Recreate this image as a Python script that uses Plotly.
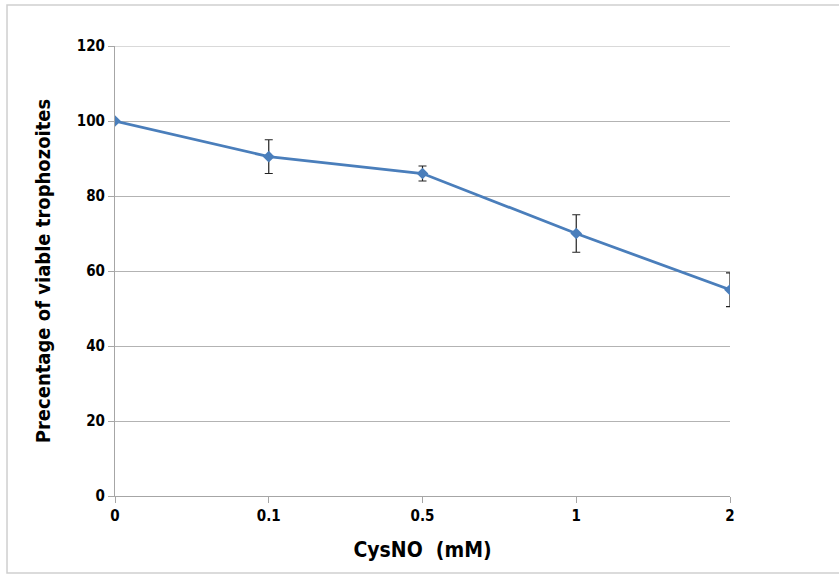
import plotly.graph_objects as go

categories = ["0", "0.1", "0.5", "1", "2"]
viable_pct = [100, 90.5, 86, 70, 55]
err_pct = [0, 4.5, 2, 5, 4.5]
y_ticks = [0, 20, 40, 60, 80, 100, 120]

FONT = "DejaVu Sans Condensed, Liberation Sans, sans-serif"

fig = go.Figure()
fig.add_trace(go.Scatter(
    x=categories, y=viable_pct,
    mode="lines+markers",
    line=dict(color="#4a7ebb", width=2.8),
    marker=dict(symbol="diamond", size=9, color="#4a7ebb"),
    error_y=dict(type="data", array=err_pct, visible=True, color="#222222", thickness=1.2, width=4),
    showlegend=False,
))

fig.update_layout(
    width=839, height=575,
    margin=dict(l=115, r=109, t=46, b=79),
    paper_bgcolor="white", plot_bgcolor="white",
    font=dict(family=FONT, color="black"),
    xaxis=dict(
        type="category", range=[0, 4],
        showgrid=False, showline=True, linecolor="#a6a6a6", linewidth=1,
        ticks="outside", ticklen=6, tickcolor="#a6a6a6",
        tickfont=dict(size=15, family=FONT, weight="bold"),
        title=dict(text="CysNO  (mM)", font=dict(size=21, family=FONT, weight="bold"), standoff=18),
        zeroline=False,
    ),
    yaxis=dict(
        range=[0, 120], tickvals=y_ticks,
        showgrid=True, gridcolor="#b3b3b3", gridwidth=1,
        showline=True, linecolor="#a6a6a6", linewidth=1,
        ticks="outside", ticklen=6, tickcolor="#a6a6a6",
        tickfont=dict(size=15, family=FONT, weight="bold"),
        title=dict(text="Precentage of viable trophozoites", font=dict(size=20, family=FONT, weight="bold"), standoff=20),
        zeroline=False,
    ),
    shapes=[
        dict(type="rect", xref="paper", yref="paper",
             x0=-0.1756, x1=1.6, y0=-0.171, y1=1.091,
             line=dict(color="#cfcfcf", width=1.5), layer="below"),
        dict(type="line", xref="paper", yref="y",
             x0=0, x1=1, y0=y_ticks[-1], y1=y_ticks[-1],
             line=dict(color="#b3b3b3", width=1), layer="below"),
    ],
)

fig.write_html("out.html", config={"displayModeBar": False},
               post_script="document.body.style.margin='0';document.body.style.padding='0';")
